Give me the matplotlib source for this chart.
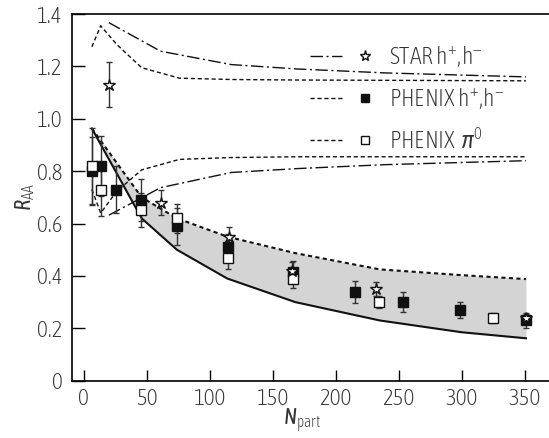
import matplotlib
matplotlib.use("Agg")
import matplotlib.pyplot as plt
from matplotlib import font_manager
from matplotlib.lines import Line2D
from matplotlib.legend_handler import HandlerTuple

# ---- fonts: prefer a light, narrow sans face when one is installed ----
_WEIGHTS = {"ultralight": 200, "light": 300, "normal": 400, "regular": 400,
            "book": 400, "medium": 500, "semibold": 600, "bold": 700}


def _w(entry):
    w = entry.weight
    if isinstance(w, str):
        return _WEIGHTS.get(w.lower(), 400)
    return int(w)


_entries = [f for f in font_manager.fontManager.ttflist
            if ("Narrow" in f.name or "Condensed" in f.name
                or f.stretch in ("condensed", "semi-condensed", "extra-condensed"))
            and "Mono" not in f.name and f.style == "normal"]
_light = sorted({f.name for f in _entries if _w(f) <= 350 and "DejaVu" not in f.name})
_other = sorted({f.name for f in _entries if "DejaVu" not in f.name})
_dejavu = sorted({f.name for f in _entries if "DejaVu" in f.name})
if _light:
    FONT, WEIGHT = _light[0], "light"
elif _other:
    FONT, WEIGHT = _other[0], "normal"
elif _dejavu:
    FONT, WEIGHT = _dejavu[0], "normal"
else:
    FONT, WEIGHT = "DejaVu Sans", "normal"

plt.rcParams["font.family"] = [FONT, "DejaVu Sans"]
plt.rcParams["font.weight"] = WEIGHT
plt.rcParams["mathtext.fontset"] = "custom"
plt.rcParams["mathtext.rm"] = FONT + ":" + WEIGHT
plt.rcParams["mathtext.it"] = FONT + ":italic:" + WEIGHT

# ---- data ----
# calculation band (lower edge solid, upper edge dotted)
band_x = [6.5, 46, 74, 114, 168, 235, 300, 351]
band_lo = [0.963, 0.62, 0.50, 0.39, 0.30, 0.23, 0.185, 0.162]
band_hi = [0.963, 0.70, 0.62, 0.55, 0.487, 0.425, 0.403, 0.388]

# STAR normalisation uncertainty (dash-dot)
star_sys_x = [20, 61, 117, 170, 240, 351]
star_sys_hi = [1.367, 1.258, 1.207, 1.19, 1.175, 1.16]
star_sys_lo = [0.632, 0.737, 0.795, 0.81, 0.825, 0.84]

# PHENIX normalisation uncertainty (dashed)
phx_sys_x = [6.5, 13.5, 26, 46, 76, 117, 170, 351]
phx_sys_hi = [1.275, 1.355, 1.285, 1.195, 1.155, 1.15, 1.148, 1.145]
phx_sys_lo = [0.73, 0.64, 0.722, 0.805, 0.845, 0.852, 0.855, 0.855]

# STAR h+,h-
star_x = [20, 61, 115, 165, 232, 351]
star_y = [1.13, 0.68, 0.55, 0.42, 0.35, 0.24]
star_err = [0.085, 0.047, 0.035, 0.035, 0.025, 0.015]

# PHENIX h+,h-
phh_x = [6.3, 13.7, 25.8, 45.5, 74.3, 114.3, 166.3, 215.3, 253.7, 298.6, 351]
phh_y = [0.80, 0.82, 0.73, 0.69, 0.59, 0.51, 0.415, 0.34, 0.30, 0.27, 0.23]
phh_err = [0.13, 0.115, 0.09, 0.08, 0.07, 0.05, 0.043, 0.042, 0.037, 0.03, 0.028]

# PHENIX pi0
pi0_x = [6.3, 13.7, 45.5, 74.3, 114.3, 166.3, 234.6, 325]
pi0_y = [0.82, 0.73, 0.65, 0.62, 0.47, 0.39, 0.30, 0.24]
pi0_err = [0.145, 0.10, 0.065, 0.055, 0.045, 0.035, 0.022, 0.02]

x_ticks = [0, 50, 100, 150, 200, 250, 300, 350]
y_ticks = [0, 0.2, 0.4, 0.6, 0.8, 1.0, 1.2, 1.4]
y_tick_labels = ["0", "0.2", "0.4", "0.6", "0.8", "1.0", "1.2", "1.4"]

# ---- figure ----
fig = plt.figure(figsize=(5.49, 4.38), dpi=100)
ax = fig.add_axes([0.1311, 0.1308, 0.8689, 0.8372])

DASHDOT = (0, (9, 2.5, 1.5, 2.5))
DASHED = (0, (3, 2))
DOTTED = (0, (2, 1.6))

ax.fill_between(band_x, band_lo, band_hi, color="#d4d4d4", lw=0, zorder=1)
ax.plot(band_x, band_lo, color="#111111", lw=1.5, zorder=2)
ax.plot(band_x, band_hi, color="#111111", lw=1.5, ls=DOTTED, zorder=2)

for ys in (star_sys_hi, star_sys_lo):
    ax.plot(star_sys_x, ys, color="#111111", lw=1.0, ls=DASHDOT, zorder=2)
for ys in (phx_sys_hi, phx_sys_lo):
    ax.plot(phx_sys_x, ys, color="#111111", lw=1.0, ls=DASHED, zorder=2)

eb = dict(fmt="none", ecolor="#333333", elinewidth=1.0, capsize=2.5, capthick=1.0, zorder=3)
ax.errorbar(star_x, star_y, yerr=star_err, **eb)
ax.errorbar(phh_x, phh_y, yerr=phh_err, **eb)
ax.errorbar(pi0_x, pi0_y, yerr=pi0_err, **eb)

ax.plot(phh_x, phh_y, ls="none", marker="s", ms=7, mfc="#111111", mec="#111111", zorder=4)
ax.plot(pi0_x, pi0_y, ls="none", marker="s", ms=7, mfc="white", mec="#111111", mew=1.0, zorder=5)
ax.plot(star_x, star_y, ls="none", marker="*", ms=9, mfc="white", mec="#111111", mew=1.0, zorder=6)

# ---- axes styling ----
ax.set_xlim(-9.3, 369.3)
ax.set_ylim(0, 1.4)
ax.set_xticks(x_ticks)
ax.set_yticks(y_ticks)
ax.set_yticklabels(y_tick_labels)
ax.tick_params(axis="y", direction="in", length=9.5, width=1.0, pad=7, labelsize=16.5,
               labelcolor="#333333", right=False)
ax.tick_params(axis="x", direction="in", length=8, width=1.0, pad=5, labelsize=16.5,
               labelcolor="#333333", top=False)
for s in ("left", "bottom", "top"):
    ax.spines[s].set_linewidth(1.2)
ax.spines["right"].set_visible(False)

ax.set_xlabel(r"$N_{\rm part}$", fontsize=16, color="#333333")
ax.xaxis.set_label_coords(0.482, -0.072)
ax.set_ylabel(r"$R_{\rm AA}$", fontsize=16, color="#333333", labelpad=0)

# ---- legend ----
h_star = (Line2D([], [], color="#111111", lw=1.0, ls=DASHDOT),
          Line2D([], [], ls="none", marker="*", ms=8, mfc="white", mec="#111111"))
h_phh = (Line2D([], [], color="#111111", lw=1.0, ls=DASHED),
         Line2D([], [], ls="none", marker="s", ms=6, mfc="#111111", mec="#111111"))
h_pi0 = (Line2D([], [], color="#111111", lw=1.0, ls=DASHED),
         Line2D([], [], ls="none", marker="s", ms=6, mfc="white", mec="#111111"))
leg = ax.legend([h_star, h_phh, h_pi0],
                [r"STAR h$^{+}$,h$^{-}$", r"PHENIX h$^{+}$,h$^{-}$", r"PHENIX  $\pi^{0}$"],
                handler_map={tuple: HandlerTuple(ndivide=None, pad=0.3)},
                loc="upper left", bbox_to_anchor=(0.48, 0.943), frameon=False,
                fontsize=17, handlelength=3.0, handletextpad=0.35, labelspacing=0.72,
                borderaxespad=0)
for t in leg.get_texts():
    t.set_color("#333333")

fig.savefig("out.png", dpi=100)
